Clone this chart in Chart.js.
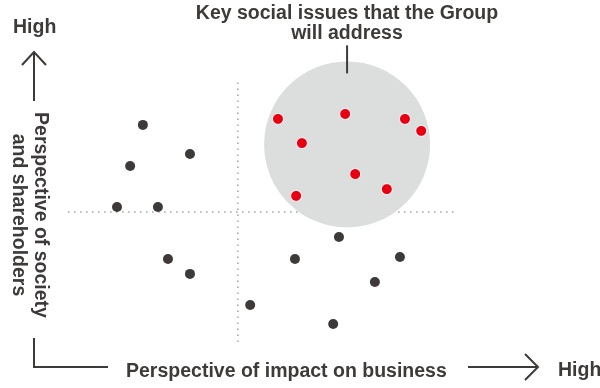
<!DOCTYPE html>
<html>
<head>
<meta charset="utf-8">
<script src="https://cdn.jsdelivr.net/npm/chart.js@4/dist/chart.umd.min.js"></script>
<style>
  body { margin: 0; background: #fff; }
  #wrap { position: relative; width: 600px; height: 388px; overflow: hidden; }
  #wrap canvas { position: absolute; left: 0; top: 0; }
  .txt { position: absolute; font-family: "Liberation Sans", Arial, sans-serif; font-weight: bold; color: #3e3a39; white-space: nowrap; font-size: 19.5px; line-height: 20px; }
</style>
</head>
<body>
<div id="wrap">
  <canvas id="chart" width="600" height="388"></canvas>
  <div class="txt" style="left:187px; top:1.5px; width:320px; text-align:center;">Key social issues that the Group<br>will address</div>
  <div class="txt" style="left:13px; top:15.5px;">High</div>
  <div class="txt" style="left:558px; top:358.5px;">High</div>
  <div class="txt" style="left:126px; top:359.5px;">Perspective of impact on business</div>
  <div class="txt" style="left:-79px; top:193px; width:220px; text-align:center; line-height:22px; transform:rotate(90deg);">Perspective of society<br>and shareholders</div>
</div>
<script>
// valori (asse x: impatto sul business, asse y: societa' e azionisti, 0-10)
var darkX = [1.94, 1.61, 3.16, 1.27, 2.33, 2.59, 3.16, 4.72, 5.88, 7.02, 8.60, 7.95, 6.87];
var darkY = [8.35, 6.77, 7.23, 5.19, 5.19, 3.19, 2.62, 1.42, 3.19, 4.04, 3.27, 2.31, 0.69];
var redX = [5.44, 7.18, 8.73, 9.15, 6.06, 7.44, 8.26, 5.91];
var redY = [8.58, 8.77, 8.58, 8.12, 7.65, 6.46, 5.88, 5.62];
var circleCenter = [7.23, 7.6];
var dividerX = 4.4;
var dividerY = 5;
var axisMin = 0;
var axisMax = 10;

function punti(xs, ys) {
    var out = [];
    for (var i = 0; i < xs.length; i++) {
        out.push({x: xs[i], y: ys[i]});
    }
    return out;
}

var ink = '#3e3a39';

// frecce e linea che collega il titolo al cerchio
var decorazioni = {
    id: 'decorazioni',
    afterDraw: function(chart) {
        var ctx = chart.ctx;
        ctx.save();
        ctx.strokeStyle = ink;
        ctx.lineWidth = 2;
        ctx.lineCap = 'butt';
        ctx.lineJoin = 'miter';
        // freccia verso l'alto
        ctx.beginPath();
        ctx.moveTo(34, 101); ctx.lineTo(34, 52);
        ctx.moveTo(22, 65); ctx.lineTo(34, 52); ctx.lineTo(46, 65);
        ctx.stroke();
        // angolo in basso a sinistra
        ctx.beginPath();
        ctx.moveTo(34, 338); ctx.lineTo(34, 367); ctx.lineTo(108, 367);
        ctx.stroke();
        // freccia verso destra
        ctx.beginPath();
        ctx.moveTo(468, 367); ctx.lineTo(537, 367);
        ctx.moveTo(525, 354); ctx.lineTo(538, 367); ctx.lineTo(525, 380);
        ctx.stroke();
        // linea del titolo
        var cx = chart.scales.x.getPixelForValue(circleCenter[0]);
        var cy = chart.scales.y.getPixelForValue(circleCenter[1]);
        ctx.beginPath();
        ctx.moveTo(cx, cy - 99);
        ctx.lineTo(cx, cy - 71);
        ctx.stroke();
        ctx.restore();
    }
};

var chart = new Chart(document.getElementById('chart'), {
    type: 'scatter',
    data: {
        datasets: [{
            label: 'rossi',
            data: punti(redX, redY),
            backgroundColor: '#e60012',
            borderColor: '#ffffff',
            borderWidth: 1,
            pointRadius: 5.5,
            clip: false,
            order: 1
        },
        {
            label: 'grigi',
            data: punti(darkX, darkY),
            backgroundColor: ink,
            borderWidth: 0,
            pointRadius: 5,
            clip: false,
            order: 2
        },
        {
            label: 'cerchio',
            data: [{x: circleCenter[0], y: circleCenter[1]}],
            backgroundColor: '#dcdddd',
            borderWidth: 0,
            pointRadius: 83,
            clip: false,
            order: 3
        },
        {
            label: 'orizzontale',
            data: [{x: axisMin, y: dividerY}, {x: axisMax, y: dividerY}],
            showLine: true,
            borderColor: '#a8a9a9',
            borderWidth: 1.6,
            borderDash: [1.6, 4.4],
            pointRadius: 0,
            clip: false,
            order: 4
        },
        {
            label: 'verticale',
            data: [{x: dividerX, y: axisMin}, {x: dividerX, y: axisMax}],
            showLine: true,
            borderColor: '#a8a9a9',
            borderWidth: 1.6,
            borderDash: [1.6, 4.4],
            pointRadius: 0,
            clip: false,
            order: 4
        }]
    },
    options: {
        responsive: false,
        animation: false,
        layout: { autoPadding: false, padding: { left: 68, right: 146, top: 82, bottom: 46 } },
        scales: {
            x: { display: false, min: axisMin, max: axisMax },
            y: { display: false, min: axisMin, max: axisMax }
        },
        plugins: {
            legend: { display: false },
            tooltip: { enabled: false }
        },
        elements: { point: { hoverRadius: 5 } }
    },
    plugins: [decorazioni]
});
</script>
</body>
</html>
